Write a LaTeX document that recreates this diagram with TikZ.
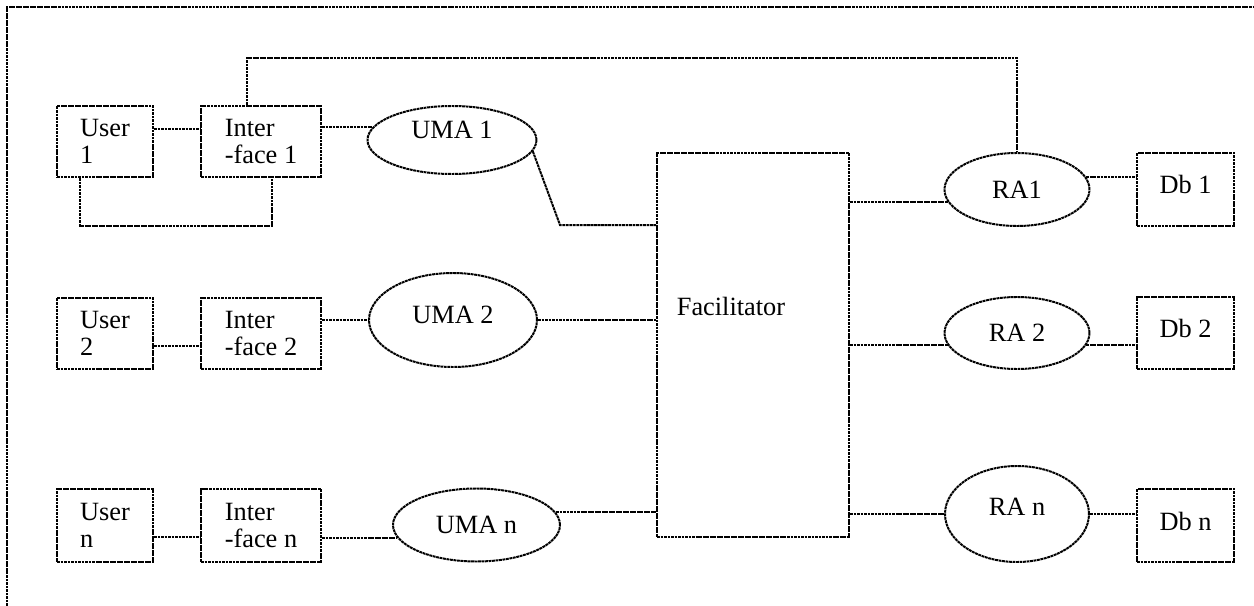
\documentclass[tikz,border=0pt]{standalone}
\usepackage{fontspec}
\setmainfont{Liberation Serif}
\usetikzlibrary{shapes.geometric}
\def\pxu{0.016cm}

\begin{document}
\begin{tikzpicture}[x=\pxu,y=-\pxu,
  wire/.style={line width=0.9pt,dash pattern=on 1.3pt off 0.3pt},
  box/.style={rectangle,draw,wire,align=left,inner sep=0pt,font=\fontsize{12}{12}\selectfont},
  agent/.style={ellipse,draw,wire,inner sep=0pt,font=\fontsize{12}{12}\selectfont}]
\useasboundingbox (0,0) rectangle (1254,606);
\draw[wire] (7,620) -- (7,7) -- (1270,7);

% users and interfaces
\node[box,minimum width=96*\pxu,minimum height=71*\pxu] (user1) at (105,141.5) {User\\1};
\node[box,minimum width=120*\pxu,minimum height=71*\pxu] (iface1) at (261,141.5) {Inter\\-face 1};
\node[box,minimum width=96*\pxu,minimum height=71*\pxu] (user2) at (105,333.5) {User\\2};
\node[box,minimum width=120*\pxu,minimum height=71*\pxu] (iface2) at (261,333.5) {Inter\\-face 2};
\node[box,minimum width=96*\pxu,minimum height=73*\pxu] (usern) at (105,525.5) {User\\n};
\node[box,minimum width=120*\pxu,minimum height=73*\pxu] (ifacen) at (261,525.5) {Inter\\-face n};

\node[agent,minimum width=169*\pxu,minimum height=68*\pxu,text depth=9pt] (uma1) at (452,140) {UMA 1};
\node[agent,minimum width=168*\pxu,minimum height=94*\pxu,text depth=4.5pt] (uma2) at (453,320) {UMA 2};
\node[agent,minimum width=167*\pxu,minimum height=73*\pxu] (uman) at (476.5,525) {UMA n};

\node[box,minimum width=192*\pxu,minimum height=384*\pxu] (fac) at (753,345) {};
\node[font=\fontsize{12}{12}\selectfont,inner sep=0pt] (factxt) at (731,306) {Facilitator};

% resource agents and databases
\node[agent,minimum width=145*\pxu,minimum height=73*\pxu] (ra1) at (1017,189.5) {RA1};
\node[agent,minimum width=145*\pxu,minimum height=72*\pxu] (ra2) at (1017,333) {RA 2};
\node[agent,minimum width=144*\pxu,minimum height=96*\pxu,text depth=6.4pt] (ran) at (1017,514) {RA n};
\node[box,minimum width=97*\pxu,minimum height=73*\pxu,text depth=4.6pt] (db1) at (1185.5,189.5) {Db 1};
\node[box,minimum width=97*\pxu,minimum height=72*\pxu,text depth=4.6pt] (db2) at (1185.5,333) {Db 2};
\node[box,minimum width=97*\pxu,minimum height=73*\pxu,text depth=4pt] (dbn) at (1185.5,525.5) {Db n};

\coordinate (top) at (0,58);

% row 1
\draw[wire] ([yshift=12.5*\pxu]user1.east) -- ([yshift=12.5*\pxu]iface1.west);
\draw[wire] (iface1.east |- uma1.171) -- (uma1.171);
\draw[wire] ([xshift=24*\pxu]user1.south west) -- ++(0,48) -| ([xshift=72*\pxu]iface1.south west);
\draw[wire] ([xshift=47*\pxu]iface1.north west) -- ([xshift=47*\pxu]iface1.north west |- top) -| (ra1.north);
\draw[wire] (uma1.-8) -- ([xshift=-96*\pxu,yshift=-73*\pxu]fac.north west) -- ([yshift=-73*\pxu]fac.north west);

% row 2
\draw[wire] ([yshift=-12.5*\pxu]user2.east) -- ([yshift=-12.5*\pxu]iface2.west);
\draw[wire] (iface2.east |- uma2.west) -- (uma2.west);
\draw[wire] (uma2.east) -- (uma2.east -| fac.west);

% row n
\draw[wire] ([yshift=-11.5*\pxu]usern.east) -- ([yshift=-11.5*\pxu]ifacen.west);
\draw[wire] (ifacen.east |- uman.189) -- (uman.189);
\draw[wire] (uman.9) -- (uman.9 -| fac.west);

% right side
\draw[wire] (fac.east |- ra1.190) -- (ra1.190);
\draw[wire] (ra1.10) -- (ra1.10 -| db1.west);
\draw[wire] (fac.east |- ra2.190) -- (ra2.190);
\draw[wire] (ra2.-10) -- (ra2.-10 -| db2.west);
\draw[wire] (fac.east |- ran.west) -- (ran.west);
\draw[wire] (ran.east) -- (dbn.west |- ran.east);
\end{tikzpicture}
\end{document}
